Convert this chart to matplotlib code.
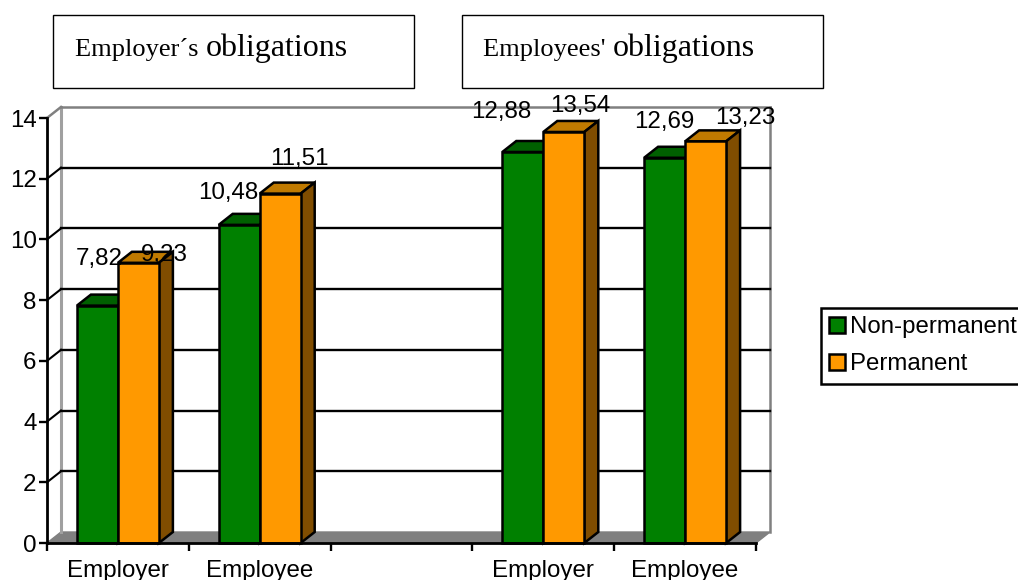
import matplotlib.pyplot as plt
from matplotlib.patches import Polygon, Patch, Rectangle

plt.rcParams["font.family"] = ["Liberation Sans", "DejaVu Sans"]

categories = ["Employer", "Employee", "", "Employer", "Employee"]
series_names = ["Non-permanent", "Permanent"]
non_permanent = [7.82, 10.48, None, 12.88, 12.69]
permanent = [9.23, 11.51, None, 13.54, 13.23]
y_ticks = [0, 2, 4, 6, 8, 10, 12, 14]

front_colors = ["#008000", "#FF9900"]
top_colors = ["#006000", "#C07A00"]
side_colors = ["#005000", "#804D00"]

# pixel nudges for the value labels, they sit quite irregularly in the original
label_offsets = [
    [(2, 47), (26, 8)],
    [(-11, 32), (19, 35)],
    [(-22, 40), (16, 26)],
    [(0, 36), (40, 23)],
]


def main():
    fig = plt.figure(figsize=(10.18, 5.8), dpi=100)
    ax = fig.add_axes([47 / 1018, 37 / 580, 709 / 1018, 425 / 580])
    ax.set_xlim(-0.5, 4.5)
    ax.set_ylim(0, 14)

    # size of the fake 3d depth in data units
    dx = 14 / 141.8
    dy = 11 / 30.36
    bar_w = 41 / 141.8

    # floor and walls
    ax.add_patch(
        Polygon(
            [(-0.5, 0), (-0.5 + dx, dy), (4.5 + dx, dy), (4.5, 0)],
            facecolor="#808080",
            edgecolor="#808080",
            clip_on=False,
            zorder=1,
        )
    )
    ax.plot([-0.5 + dx] * 2, [dy, 14 + dy], color="#A0A0A0", lw=2.2, clip_on=False, zorder=1)
    ax.plot([4.5 + dx] * 2, [dy, 14 + dy], color="#808080", lw=1.8, clip_on=False, zorder=1)
    ax.plot([-0.5 + dx, 4.5 + dx], [14 + dy] * 2, color="#808080", lw=1.8, clip_on=False, zorder=1)
    ax.plot([-0.5, -0.5 + dx], [14, 14 + dy], color="#808080", lw=1.8, clip_on=False, zorder=1)

    # gridlines on the back wall with the slanted bit down to the axis
    for t in y_ticks[1:-1]:
        ax.plot([-0.5 + dx, 4.5 + dx], [t + dy] * 2, color="black", lw=1.7, clip_on=False, zorder=2)
        ax.plot([-0.5, -0.5 + dx], [t, t + dy], color="black", lw=1.5, clip_on=False, zorder=2)

    # bars
    z = 3
    k = 0
    for i in range(len(categories)):
        if non_permanent[i] is None:
            continue
        for s, vals in enumerate([non_permanent, permanent]):
            v = vals[i]
            x0 = i + (s - 1) * bar_w
            x1 = x0 + bar_w
            ax.bar(
                x0,
                v,
                width=bar_w,
                align="edge",
                color=front_colors[s],
                edgecolor="black",
                linewidth=1.8,
                clip_on=False,
                zorder=z + 0.2,
            )
            ax.add_patch(
                Polygon(
                    [(x0, v), (x0 + dx, v + dy), (x1 + dx, v + dy), (x1, v)],
                    facecolor=top_colors[s],
                    edgecolor="black",
                    linewidth=1.8,
                    clip_on=False,
                    zorder=z,
                )
            )
            ax.add_patch(
                Polygon(
                    [(x1, 0), (x1 + dx, dy), (x1 + dx, v + dy), (x1, v)],
                    facecolor=side_colors[s],
                    edgecolor="black",
                    linewidth=1.8,
                    clip_on=False,
                    zorder=z,
                )
            )
            z += 1
        for s, vals in enumerate([non_permanent, permanent]):
            x0 = i + (s - 1) * bar_w
            off = label_offsets[k][s]
            ax.annotate(
                f"{vals[i]:.2f}".replace(".", ","),
                (x0 + bar_w / 2, vals[i]),
                xytext=(off[0] * 0.72, off[1] * 0.72),
                textcoords="offset points",
                ha="center",
                va="center",
                fontsize=17.4,
                color="black",
                annotation_clip=False,
                zorder=50,
            )
        k += 1

    # axes
    for name in ["top", "right"]:
        ax.spines[name].set_visible(False)
    for name in ["left", "bottom"]:
        ax.spines[name].set_linewidth(2)
        ax.spines[name].set_zorder(20)
    ax.set_yticks(y_ticks)
    ax.tick_params(axis="y", length=6, width=1.7, labelsize=17.4, pad=1.5)
    ax.set_xticks([-0.5, 0.5, 1.5, 2.5, 3.5, 4.5])
    ax.set_xticklabels([])
    ax.set_xticks(range(len(categories)), categories, minor=True)
    ax.tick_params(axis="x", which="major", length=6, width=1.7)
    ax.tick_params(axis="x", which="minor", length=0, labelsize=17.4, pad=12)

    # the two boxes above the chart
    boxes = [
        (53, "Employer´s", 75),
        (462, "Employees'", 483),
    ]
    for left, word, text_x in boxes:
        fig.add_artist(
            Rectangle(
                (left / 1018, 1 - 88 / 580),
                361 / 1018,
                73 / 580,
                transform=fig.transFigure,
                facecolor="white",
                edgecolor="black",
                linewidth=1,
            )
        )
        t = fig.text(
            text_x / 1018,
            1 - 56 / 580,
            word + " ",
            family="Liberation Serif",
            fontsize=19,
            va="baseline",
        )
        fig.canvas.draw()
        end = t.get_window_extent().x1
        fig.text(
            (end + 1) / 1018,
            1 - 56 / 580,
            "obligations",
            family="Liberation Serif",
            fontsize=23,
            va="baseline",
        )

    handles = [
        Patch(facecolor=front_colors[j], edgecolor="black", linewidth=1.8)
        for j in range(2)
    ]
    leg = fig.legend(
        handles,
        series_names,
        loc="upper left",
        bbox_to_anchor=(820.5 / 1018, 1 - 308 / 580),
        borderaxespad=0,
        fontsize=17.3,
        frameon=True,
        fancybox=False,
        framealpha=1,
        edgecolor="black",
        handlelength=0.67,
        handleheight=0.67,
        handletextpad=0.2,
        labelspacing=0.62,
        borderpad=0.35,
    )
    leg.get_frame().set_linewidth(1.8)
    leg.get_frame().set_width(260)

    fig.savefig("out.png", dpi=100)


if __name__ == "__main__":
    main()
